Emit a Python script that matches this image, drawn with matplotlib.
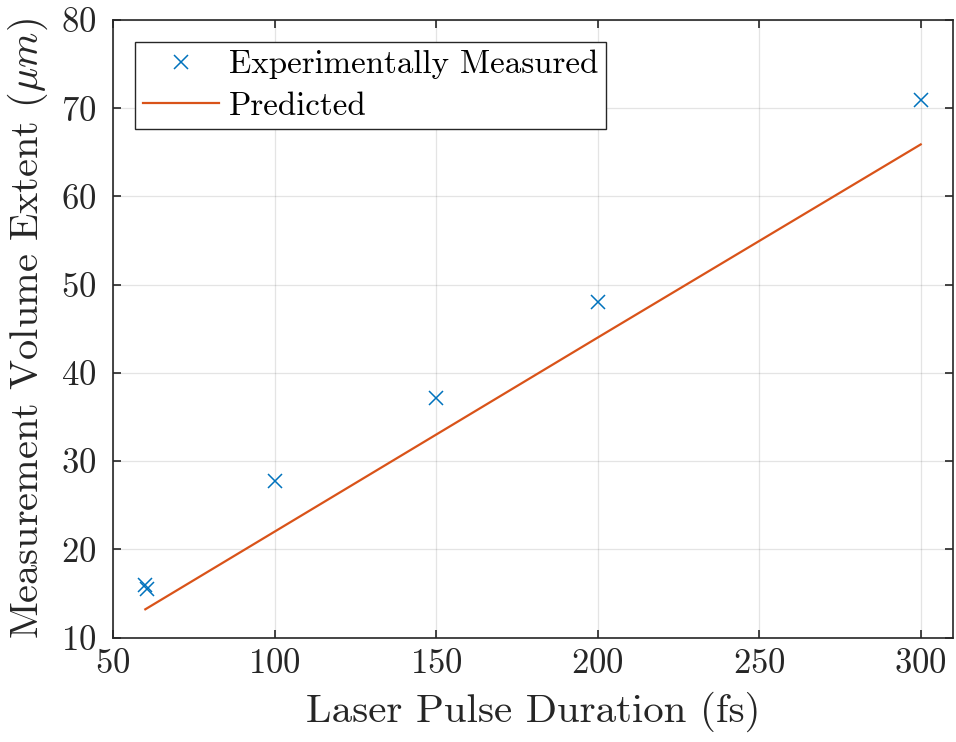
import matplotlib
matplotlib.use("Agg")
import matplotlib.pyplot as plt

plt.rcParams['font.family'] = 'serif'
plt.rcParams['font.serif'] = ['cmr10']
plt.rcParams['mathtext.fontset'] = 'cm'
plt.rcParams['axes.formatter.use_mathtext'] = True

# measured data
meas_x = [60, 60.5, 100, 150, 200, 300]
meas_y = [16.0, 15.5, 27.75, 37.2, 48.0, 70.9]

# predicted
pred_x = [60, 100, 150, 200, 300]
pred_y = [13.2, 22.0, 33.0, 44.0, 65.9]

fig = plt.figure(figsize=(9.56, 7.42), dpi=100)
ax = fig.add_axes([0.1182, 0.1408, 0.8787, 0.8322])

ax.plot(meas_x, meas_y, 'x', color='#0072BD', markersize=10, markeredgewidth=1.1,
        linestyle='none', label='Experimentally Measured')
ax.plot(pred_x, pred_y, '-', color='#D95319', linewidth=1.6, label='Predicted')

ax.set_xlim(50, 310)
ax.set_ylim(10, 80)
ax.set_xticks([50, 100, 150, 200, 250, 300])
ax.set_yticks([10, 20, 30, 40, 50, 60, 70, 80])

ax.grid(True, color='#262626', alpha=0.12, linewidth=0.9)
ax.tick_params(direction='in', top=True, right=True, length=6, width=1.2,
               labelsize=25, colors='#262626')
ax.tick_params(axis='x', pad=8)
ax.tick_params(axis='y', pad=12)
for s in ax.spines.values():
    s.set_linewidth(1.2)
    s.set_color('#262626')

ax.set_xlabel('Laser Pulse Duration (fs)', fontsize=29.5, color='#262626', labelpad=8)
ax.set_ylabel(r'Measurement Volume Extent ($\mu m$)', fontsize=29, color='#262626',
              labelpad=8)

leg = ax.legend(loc='upper left', bbox_to_anchor=(0.026, 0.965), fontsize=23.7,
                fancybox=False, edgecolor='#262626', framealpha=1,
                borderpad=0.25, labelspacing=0.38, handlelength=2.3,
                handletextpad=0.3, borderaxespad=0)
leg.get_frame().set_linewidth(1.0)

fig.savefig('out.png', dpi=100)
